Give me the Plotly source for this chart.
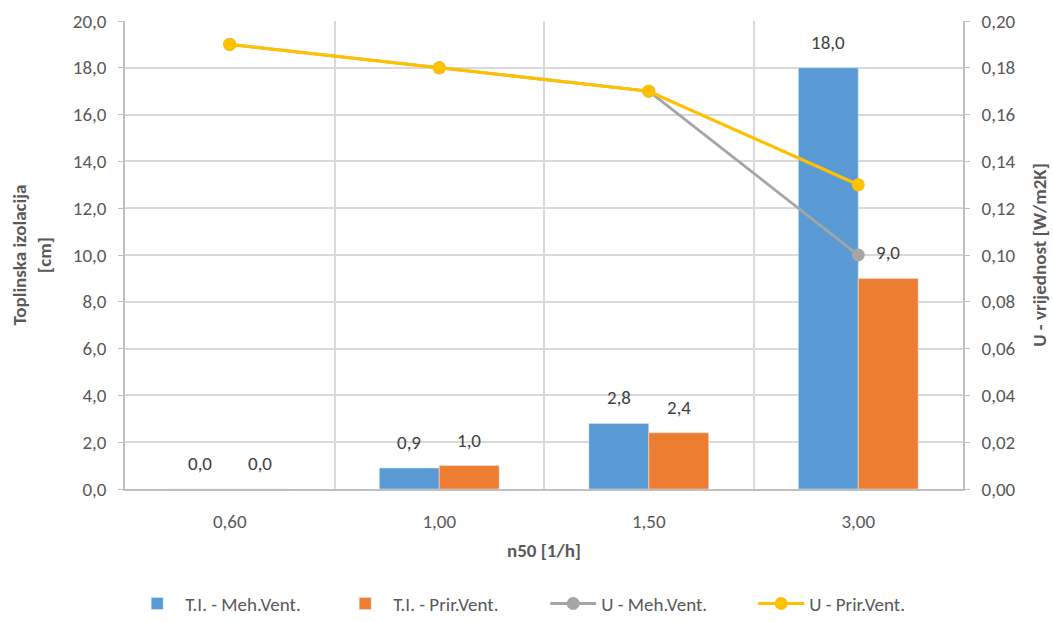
import plotly.graph_objects as go

# Categories (air change rate n50) and series values
categories = ["0,60", "1,00", "1,50", "3,00"]
ti_meh = [0.0, 0.9, 2.8, 18.0]      # insulation thickness, mechanical ventilation [cm]
ti_prir = [0.0, 1.0, 2.4, 9.0]      # insulation thickness, natural ventilation [cm]
u_meh = [0.19, 0.18, 0.17, 0.10]    # U-value, mechanical ventilation [W/m2K]
u_prir = [0.19, 0.18, 0.17, 0.13]   # U-value, natural ventilation [W/m2K]

names = ["T.I. - Meh.Vent.", "T.I. - Prir.Vent.", "U - Meh.Vent.", "U - Prir.Vent."]
colors = ["#5B9BD5", "#ED7D31", "#A5A5A5", "#FFC000"]

FONT = "Calibri, Carlito, Lato, sans-serif"
TXT = "#595959"
GRID = "#D9D9D9"
AXIS = "#BFBFBF"
FS = 19

xs = list(range(len(categories)))
bw = 0.286  # bar width in category units

fig = go.Figure()
fig.add_trace(go.Bar(x=xs, y=ti_meh, name=names[0], marker_color=colors[0],
                     width=bw, offset=-bw))
fig.add_trace(go.Bar(x=xs, y=ti_prir, name=names[1], marker_color=colors[1],
                     width=bw, offset=0))
fig.add_trace(go.Scatter(x=xs, y=u_meh, name=names[2], yaxis="y2", mode="lines+markers",
                         line=dict(color=colors[2], width=2.8), marker=dict(size=13, color=colors[2])))
fig.add_trace(go.Scatter(x=xs, y=u_prir, name=names[3], yaxis="y2", mode="lines+markers",
                         line=dict(color=colors[3], width=3.2), marker=dict(size=13, color=colors[3])))

# Value labels above the bars
annotations = []
for vals, off in ((ti_meh, -bw / 2), (ti_prir, bw / 2)):
    for i, v in enumerate(vals):
        annotations.append(dict(x=i + off, y=v, xref="x", yref="y", text=f"{v:.1f}".replace(".", ","),
                                showarrow=False, yanchor="bottom", yshift=12,
                                font=dict(family=FONT, size=FS, color="#404040")))

fig.update_layout(
    width=1053, height=622,
    margin=dict(l=125, r=90, t=21, b=133, autoexpand=False),
    plot_bgcolor="white", paper_bgcolor="white",
    font=dict(family=FONT, size=FS, color=TXT),
    separators=", ",
    barmode="overlay",
    showlegend=True,
    legend=dict(orientation="h", x=0.005, xanchor="left", y=-0.245, yanchor="middle",
                font=dict(size=FS, color=TXT), traceorder="normal", itemwidth=46,
                entrywidth=147, entrywidthmode="pixels"),
    annotations=annotations,
    xaxis=dict(range=[-0.5, 3.5], tickvals=xs, ticktext=categories, showgrid=False,
               zeroline=False, showline=True, linecolor=AXIS, linewidth=1.5, ticks="",
               ticklabelstandoff=14, automargin=False,
               title=dict(text="<b>n50 [1/h]</b>", standoff=12, font=dict(size=FS, color=TXT))),
    xaxis2=dict(overlaying="x", range=[-0.5, 3.5], tickvals=[0.5, 1.5, 2.5], showgrid=True,
                gridcolor=GRID, gridwidth=1.5, showticklabels=False, zeroline=False, side="bottom"),
    yaxis=dict(range=[0, 20], dtick=2, tickformat=".1f", showgrid=True, gridcolor=GRID, gridwidth=1.5,
               zeroline=False, showline=True, linecolor=AXIS, linewidth=1.5, ticks="outside",
               ticklen=5, tickcolor=AXIS, ticklabelstandoff=8, automargin=False,
               title=dict(text="<b>Toplinska izolacija<br>[cm]</b>", standoff=16,
                          font=dict(size=FS, color=TXT))),
    yaxis2=dict(overlaying="y", side="right", range=[0, 0.2], dtick=0.02, tickformat=".2f",
                showgrid=False, zeroline=False, showline=True, linecolor=AXIS, linewidth=1.5,
                ticks="outside", ticklen=5, tickcolor=AXIS, ticklabelstandoff=8, automargin=False,
                title=dict(text="<b>U - vrijednost [W/m2K]</b>", standoff=18,
                           font=dict(size=FS, color=TXT))),
)
# empty trace so the category-boundary gridline axis is rendered
fig.add_trace(go.Scatter(x=[None], y=[None], xaxis="x2", showlegend=False, hoverinfo="skip"))

fig.write_html("out.html")
